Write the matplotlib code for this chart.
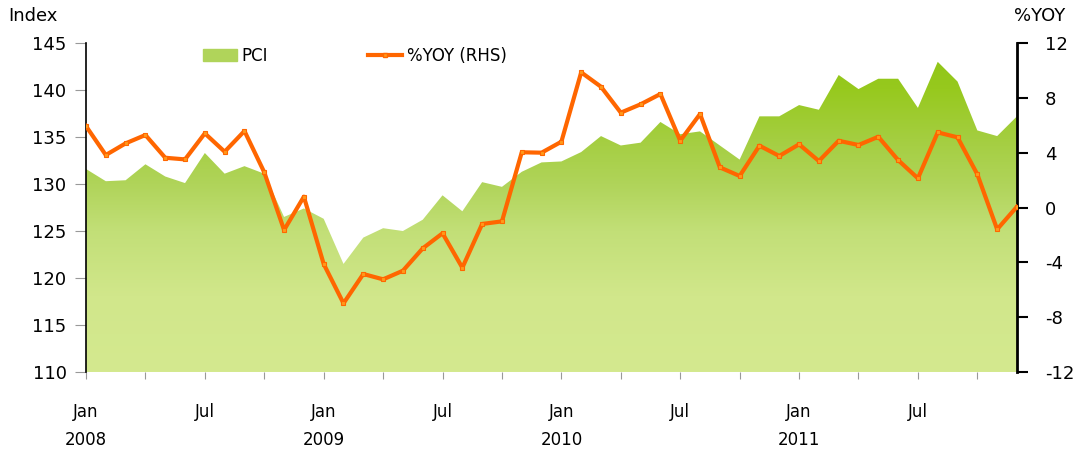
import matplotlib.pyplot as plt
import numpy as np
from matplotlib.colors import LinearSegmentedColormap
from matplotlib.patches import Patch
from matplotlib.lines import Line2D

# monthly data, Jan 2008 - Dec 2011
pci = [131.6, 130.3, 130.4, 132.1, 130.8, 130.1, 133.3, 131.1, 131.9, 131.1, 126.5, 127.4,
       126.3, 121.5, 124.3, 125.3, 125.0, 126.2, 128.8, 127.1, 130.2, 129.7, 131.3, 132.3,
       132.4, 133.4, 135.1, 134.1, 134.4, 136.6, 135.3, 135.6, 134.1, 132.6, 137.2, 137.2,
       138.4, 137.9, 141.6, 140.1, 141.2, 141.2, 138.1, 143.0, 140.9, 135.7, 135.1, 137.2]
yoy = [5.94, 3.83, 4.68, 5.29, 3.63, 3.51, 5.41, 4.07, 5.58, 2.57, -1.64, 0.79,
       -4.12, -6.99, -4.85, -5.24, -4.61, -2.98, -1.88, -4.39, -1.20, -1.01, 4.03, 4.00,
       4.80, 9.86, 8.81, 6.92, 7.53, 8.28, 4.87, 6.82, 2.93, 2.30, 4.51, 3.76,
       4.61, 3.39, 4.87, 4.56, 5.16, 3.46, 2.13, 5.48, 5.12, 2.42, -1.59, 0.06]
years = ['2008', '2009', '2010', '2011']

x = np.arange(len(pci))

plt.rcParams['font.family'] = ['DejaVu Sans']
plt.rcParams['axes.unicode_minus'] = False

fig = plt.figure(figsize=(10.79, 4.5), dpi=100)
ax = fig.add_axes([0.0797, 0.1733, 0.8628, 0.7311])
ax2 = ax.twinx()

# gradient area for PCI
cmap = LinearSegmentedColormap.from_list(
    'pci', [(0.0, '#d4e98f'), (0.23, '#d1e78b'), (0.43, '#c2df77'),
            (0.57, '#b0d45a'), (0.71, '#a4ce40'), (0.86, '#97c91e'), (1.0, '#8dc414')])
poly = ax.fill_between(x, 110, pci, color='none', lw=0)
grad = np.linspace(0, 1, 256).reshape(-1, 1)
im = ax.imshow(grad, cmap=cmap, origin='lower', aspect='auto',
               extent=[0, len(pci) - 1, 110, 145], zorder=1)
im.set_clip_path(poly.get_paths()[0], transform=ax.transData)

ax.set_xlim(0, len(pci) - 1)
ax.set_ylim(110, 145)
ax.set_yticks(range(110, 146, 5))

# %YOY line
ax2.plot(x, yoy, color='#ff6600', lw=3, marker='s', ms=3.5,
         mfc='#ff9a1a', mec='#ff6600', mew=0.8, zorder=3)
ax2.set_ylim(-12, 12)
ax2.set_yticks(range(-12, 13, 4))

# x ticks every quarter, labels on Jan / Jul
ticks = list(range(0, len(pci), 3))
labels = []
for t in ticks:
    if t % 12 == 0:
        labels.append('Jan\n' + years[t // 12])
    elif t % 12 == 6:
        labels.append('Jul')
    else:
        labels.append('')
ax.set_xticks(ticks)
ax.set_xticklabels(labels, fontsize=12, linespacing=1.75)
ax.tick_params(axis='x', length=5, color='#999999', pad=17)
ax.tick_params(axis='y', length=8, color='#999999', labelsize=13, pad=6)
ax2.tick_params(axis='y', length=8, width=1.5, color='black', labelsize=13, pad=12)

for s in ['top', 'bottom', 'right']:
    ax.spines[s].set_visible(False)
ax.spines['left'].set_linewidth(1.2)
for s in ['top', 'bottom', 'left']:
    ax2.spines[s].set_visible(False)
ax2.spines['right'].set_linewidth(2)

fig.text(0.008, 0.945, 'Index', fontsize=13, ha='left', va='bottom')
fig.text(0.987, 0.945, '%YOY', fontsize=13, ha='right', va='bottom')

handles = [Patch(color='#b0d45a', label='PCI'),
           Line2D([0], [0], color='#ff6600', lw=3, marker='s', ms=3.5,
                  mfc='#ff9a1a', mec='#ff6600', label='%YOY (RHS)')]
ax2.legend(handles=handles, ncol=2, frameon=False, fontsize=12,
           loc='upper left', bbox_to_anchor=(0.11, 1.035), columnspacing=6.0,
           handlelength=2.0, handletextpad=0.3)

fig.savefig('out.png', dpi=100)
